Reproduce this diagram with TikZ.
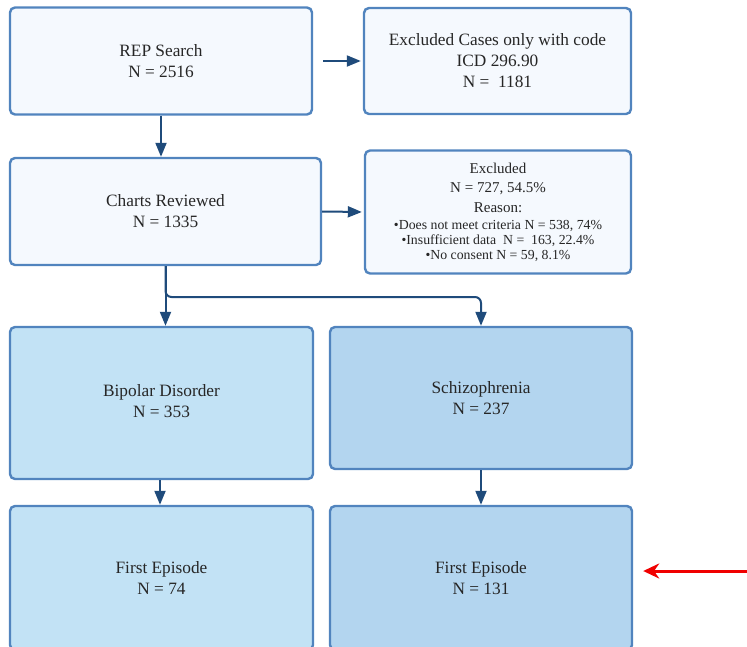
\documentclass[tikz,border=0pt]{standalone}
\usepackage{fontspec}
\setmainfont{Liberation Serif}
\usetikzlibrary{arrows.meta}
\definecolor{bordc}{HTML}{5184BE}
\definecolor{lightf}{HTML}{F5F9FE}
\definecolor{bipf}{HTML}{C2E2F5}
\definecolor{schf}{HTML}{B3D5EF}
\definecolor{arrc}{HTML}{1F4B7B}
\definecolor{redc}{HTML}{F00000}
\tikzset{
  box/.style={draw=bordc, line width=2.4pt, rounded corners=5pt, align=center,
    inner sep=0pt, font=\fontsize{17.3}{21}\selectfont, text=black!85},
  conn/.style={draw=arrc, line width=2pt, -{Triangle[length=14pt,width=11pt]}},
}
\begin{document}
\begin{tikzpicture}[x=1pt,y=-1pt]
\useasboundingbox (0,0) rectangle (747,646);
\node[box, fill=lightf, minimum width=302, minimum height=107] (rep) at (161,61) {REP Search\\N = 2516};
\node[box, fill=lightf, minimum width=267, minimum height=106] (exc1) at (497.5,61) {Excluded Cases only with code\\ICD 296.90\\N =\ \ 1181};
\node[box, fill=lightf, minimum width=311, minimum height=107] (charts) at (165.5,211.5) {Charts Reviewed\\N = 1335};
\node[box, fill=lightf, minimum width=266, minimum height=123, font=\fontsize{15}{18}\selectfont] (exc2) at (498,212) {%
  Excluded\\[1.5pt]N = 727, 54.5\%\\[1.5pt]Reason:\\[-1pt]
  \fontsize{13.8}{15}\selectfont \textbullet Does not meet criteria N = 538, 74\%\\[-3pt]
  \fontsize{13.8}{15}\selectfont \textbullet Insufficient data\ \ N =\ \ 163, 22.4\%\\[-3pt]
  \fontsize{13.8}{15}\selectfont \textbullet No consent N = 59, 8.1\%};
\node[box, fill=bipf, minimum width=303, minimum height=152] (bip) at (161.5,403) {\raisebox{5pt}{\begin{tabular}{@{}c@{}}Bipolar Disorder\\N = 353\end{tabular}}};
\node[box, fill=schf, minimum width=302, minimum height=142] (sch) at (481,398) {Schizophrenia\\N = 237};
\node[box, fill=bipf, minimum width=303, minimum height=144] (fe1) at (161.5,578) {First Episode\\N = 74};
\node[box, fill=schf, minimum width=302, minimum height=144] (fe2) at (481,578) {First Episode\\N = 131};
% connectors
\draw[conn, shorten <=10pt, shorten >=2pt] (rep.east) -- (exc1.west);
\draw[conn] (rep.south) -- (rep.south |- charts.north);
\draw[conn, shorten >=2pt] (charts.east) -- (exc2.west);
\draw[conn] (charts.south) -- (charts.south |- bip.north);
\coordinate (lvl) at (0,297);
\draw[conn, rounded corners=6pt] (charts.south) -- (charts.south |- lvl) -- (sch.north |- lvl) -- (sch.north);
\coordinate (bx) at (160,0);
\draw[conn] (bip.south -| bx) -- (fe1.north -| bx);
\draw[conn] (sch.south) -- (sch.south |- fe2.north);
\coordinate (rs) at (747,571);
\draw[draw=redc, line width=3pt, -{Stealth[length=16pt,width=15pt]}, shorten >=10pt] (rs) -- (rs -| fe2.east);
\end{tikzpicture}
\end{document}
